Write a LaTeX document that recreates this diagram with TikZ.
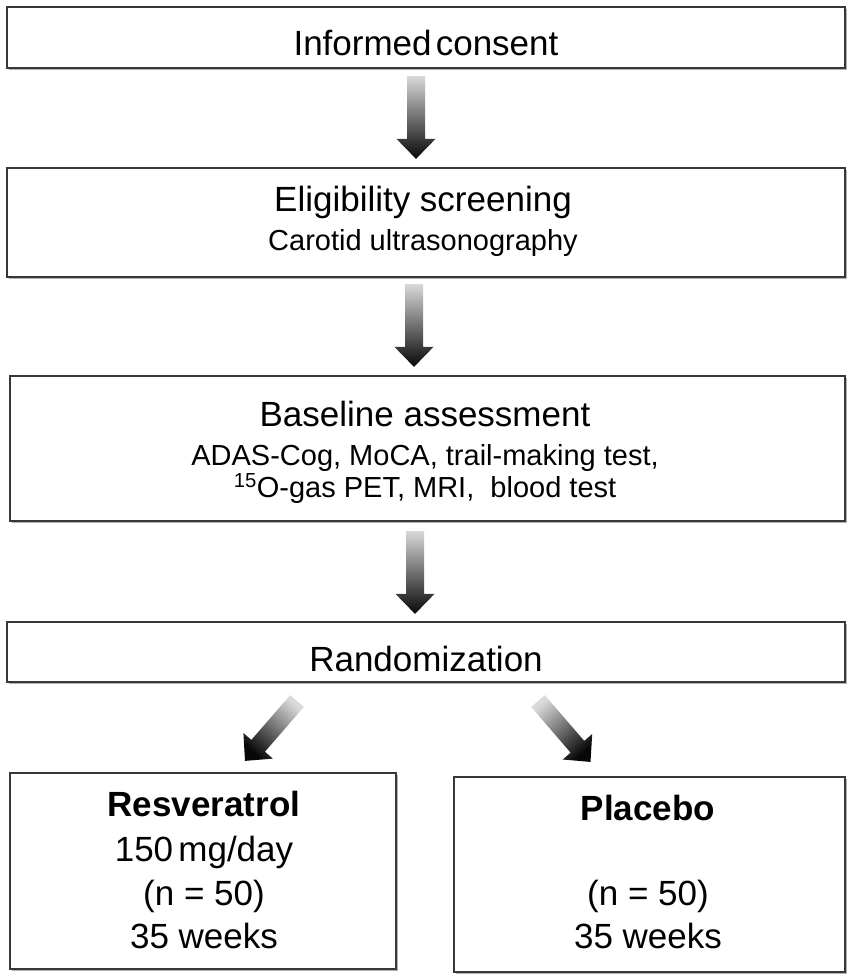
\documentclass[tikz,border=0pt]{standalone}
\usepackage{fontspec}
\setmainfont{Liberation Sans}
\usetikzlibrary{calc,shadows}
\tikzset{
  box/.style={draw=black!78, line width=2.2pt, fill=white, inner sep=0pt,
    drop shadow={shadow xshift=1.6pt, shadow yshift=-1.8pt, fill=black!30, opacity=1}},
  big/.style={font=\fontsize{35}{40}\selectfont, anchor=base, inner sep=0pt},
  bigb/.style={font=\fontsize{35}{40}\selectfont\bfseries, anchor=base, inner sep=0pt},
  small/.style={font=\fontsize{29}{33}\selectfont, anchor=base, inner sep=0pt},
  fatarrow/.style={top color=black!15, middle color=black!55, bottom color=black!97, draw=none}
}
\newcommand\fatarr[2]{%
  \coordinate (#1-hb) at ($(#1-tip)!20pt!(#1-tail)$);
  \shade[fatarrow, shading angle=#2]
    ($(#1-tail)!9pt!90:(#1-tip)$) -- ($(#1-hb)!9pt!90:(#1-tip)$) --
    ($(#1-hb)!19.5pt!90:(#1-tip)$) -- (#1-tip) --
    ($(#1-hb)!19.5pt!-90:(#1-tip)$) -- ($(#1-hb)!9pt!-90:(#1-tip)$) --
    ($(#1-tail)!9pt!-90:(#1-tip)$) -- cycle;
}
\begin{document}
\begin{tikzpicture}[x=1pt,y=-1pt]
\useasboundingbox (0,0) rectangle (851,980);
% boxes
\node[box, minimum width=838pt, minimum height=61pt] (b1) at (426,37.5) {};
\node[box, minimum width=838pt, minimum height=109pt] (b2) at (426,222.5) {};
\node[box, minimum width=835pt, minimum height=145pt] (b3) at (427.5,448.5) {};
\node[box, minimum width=838pt, minimum height=60pt] (b4) at (426,652) {};
\node[box, minimum width=386pt, minimum height=196pt] (b5) at (203,871) {};
\node[box, minimum width=391pt, minimum height=195pt] (b6) at (649.5,874.5) {};
% texts
\node[big] (t1) at (426,55) {Informed\kern0.12em consent};
\node[big] (t2) at (423,211) {Eligibility screening};
\node[small] (t2b) at (423,250) {Carotid ultrasonography};
\node[big] (t3) at (425,426) {Baseline assessment};
\node[small] (t3b) at (425,465) {ADAS-Cog, MoCA, trail-making test,};
\node[small] (t3c) at (425,497) {\textsuperscript{15}O-gas PET, MRI,\ \ blood test};
\node[big] (t4) at (426,671) {Randomization};
\node[bigb] (t5) at (204,816) {Resveratrol};
\node[big] (t5b) at (204,861) {150\kern0.15em mg/day};
\node[big] (t5c) at (204,905) {(n = 50)};
\node[big] (t5d) at (204,948) {35 weeks};
\node[bigb] (t6) at (648,820) {Placebo};
\node[big] (t6c) at (648,905) {(n = 50)};
\node[big] (t6d) at (648,948) {35 weeks};
% arrows
\coordinate (a1-tail) at ($(b1.south)+(-10,7)$);
\coordinate (a1-tip) at ($(b2.north)+(-10,-8)$);
\fatarr{a1}{0}
\coordinate (a2-tail) at ($(b2.south)+(-12,6)$);
\coordinate (a2-tip) at ($(b3.north)+(-13.5,-8)$);
\fatarr{a2}{0}
\coordinate (a3-tail) at ($(b3.south)+(-12.5,9)$);
\coordinate (a3-tip) at ($(b4.north)+(-11,-7)$);
\fatarr{a3}{0}
\coordinate (a4-tail) at ($(b4.south)+(-129,18)$);
\coordinate (a4-tip) at ($(b5.north)+(42,-11)$);
\fatarr{a4}{-42}
\coordinate (a5-tail) at ($(b4.south)+(112,18)$);
\coordinate (a5-tip) at ($(b6.north)+(-59,-14)$);
\fatarr{a5}{42}
\end{tikzpicture}
\end{document}
